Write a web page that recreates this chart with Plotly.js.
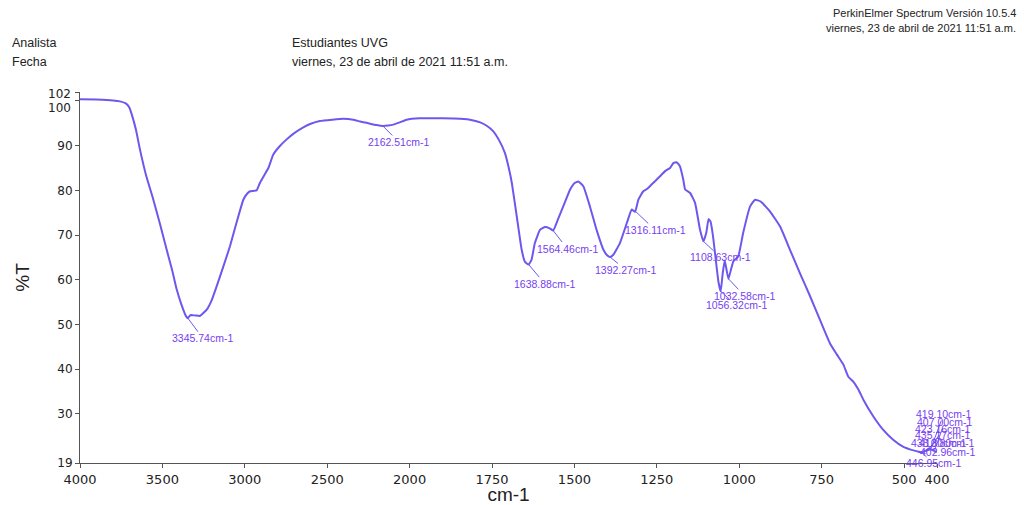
<!DOCTYPE html>
<html>
<head>
<meta charset="utf-8">
<script src="https://cdn.plot.ly/plotly-3.0.1.min.js"></script>
<style>
html,body{margin:0;padding:0;background:#fff;}
#chart{width:1024px;height:505px;}
</style>
</head>
<body>
<div id="chart"></div>
<script>
// ---- data (wavenumber cm-1, %T) ----
const wavenumber = [4000,3900,3800,3757,3720,3700,3686,3660,3636,3600,3555,3515,3474,3440,3413,3385,3356,3345.74,3330,3300,3272,3250,3231,3200,3171,3130,3090,3050,3009,2985,2968,2928,2908,2880,2857,2827,2790,2746,2700,2645,2600,2544,2470,2402,2342,2300,2261,2200,2162.51,2130,2099,2060,2018,1969,1900,1847,1810,1786,1765,1746,1730,1711,1700,1690,1675,1660,1650,1638.88,1630,1620,1604,1589,1575,1564.46,1550,1534,1513,1500,1488,1473,1453,1433,1412,1400,1392.27,1382,1362,1341,1326,1316.11,1306,1291,1280,1266,1245,1225,1210,1200,1190,1180,1170,1164,1149,1134,1119,1108.63,1100,1093,1087,1080,1072,1063,1056.32,1050,1044,1038,1032.58,1025,1018,1003,988,967,952,935,907,876,846,816,785,755,725,704,684,669,654,639,623,593,563,533,502,480,460,446.95,435.17,423.16,419.1,410.8,402.96,400];
const transmittance = [100.4,100.3,100.1,99.9,99.4,98.5,97.0,93.5,89.1,83.5,77.9,72.5,66.7,62.0,57.8,54.5,51.8,51.4,52.1,52.0,51.9,52.6,53.3,55.5,58.5,63.0,67.5,72.8,77.9,79.3,79.8,80.0,81.7,83.5,85.0,88.0,89.8,91.4,92.8,94.1,94.9,95.5,95.8,96.0,95.8,95.4,95.1,94.6,94.4,94.5,94.7,95.2,95.8,96.1,96.1,96.0,95.7,95.2,94.4,93.2,91.4,88.4,85.3,81.7,74.2,66.7,64.0,63.4,64.5,68.2,71.2,71.8,71.5,71.0,73.5,76.4,80.2,81.6,82.0,80.9,76.4,71.2,66.7,65.4,65.1,65.6,68.2,72.7,75.7,75.2,77.9,79.8,80.3,81.3,82.8,84.3,85.0,86.1,86.3,85.4,82.5,80.2,79.4,77.2,71.2,68.6,70.5,73.6,73.0,70.0,65.0,59.5,57.4,61.5,64.3,62.0,60.2,62.3,64.1,65.2,70.5,76.4,77.9,77.5,75.3,71.9,66.7,61.5,56.3,51.0,45.8,43.3,41.0,38.3,37.2,35.5,33.1,29.4,26.4,24.2,22.6,22.0,21.6,21.4,21.7,22.0,22.1,21.8,21.5,21.6];

// peak labels
const peakWn = [3345.74,2162.51,1638.88,1564.46,1392.27,1316.11,1108.63,1032.58,1056.32,419.10,407.00,423.16,435.17,438.30,410.80,402.96,446.95];
const peakT  = [51.4,94.4,63.4,71.0,65.1,75.4,68.6,60.2,57.4,22.1,21.9,22.0,21.7,21.7,21.8,21.5,21.4];
const peakText = peakWn.map(v => v.toFixed(2) + 'cm-1');

// axis ticks
const xTickVals = [4000,3500,3000,2500,2000,1750,1500,1250,1000,750,500,400];
const xTickText = ['4000','3500','3000','2500','2000','1750','1500','1250','1000','750','500','400'];
const yTickVals = [19,30,40,50,60,70,80,90,100,102];
const yTickText = ['19','30','40','50','60','70','80','90','',''];

// PerkinElmer style scale: 4000-2000 compressed 2x relative to below 2000
function xs(w){ return w >= 2000 ? (4000 - w) / 2 : 1000 + (2000 - w); }

const LINE = 'rgb(108,88,238)';
const TXT = 'rgb(118,62,240)';
const M = {l:80, r:87, t:92, b:42};
const PW = 1024 - M.l - M.r, PH = 505 - M.t - M.b;
const px = x => (x - M.l) / PW;
const py = y => (505 - M.b - y) / PH;

// label offsets (pixels from peak to label centre)
const offs = [[15,20],[16,16],[16,19],[14,18],[16,13],[20,19],[17,16],[16,17],[16,14],
              [13,-35],[10,-28],[14,-21],[18,-16],[15,-8],[14,-7],[12,0],[12,11]];

const annotations = peakWn.map((w,i) => ({
  x: xs(w), y: peakT[i], xref:'x', yref:'y',
  text: peakText[i], showarrow: true, arrowhead: 0, arrowwidth: 1, arrowcolor: LINE,
  ax: offs[i][0], ay: offs[i][1], standoff: 0, startstandoff: 0,
  font: {family:'Liberation Sans, Arial, sans-serif', size: 10.5, color: TXT},
  borderpad: 0
}));

// y labels 102 / 100 separated as in original
annotations.push({xref:'paper', yref:'y', x:0, y:102, xanchor:'right', yanchor:'middle', xshift:-7, yshift:-2, text:'102', showarrow:false, font:{family:'DejaVu Sans, sans-serif', size:12, color:'#222'}});
annotations.push({xref:'paper', yref:'y', x:0, y:100, xanchor:'right', yanchor:'middle', xshift:-7, yshift:-7, text:'100', showarrow:false, font:{family:'DejaVu Sans, sans-serif', size:12, color:'#222'}});

// header texts
const hdrFont = {family:'Liberation Sans Narrow, Liberation Sans, Arial, sans-serif', size:12.5, color:'#222'};
const hdrFontSmall = {family:'Liberation Sans Narrow, Liberation Sans, Arial, sans-serif', size:11, color:'#222'};
const headers = [
  ['Analista', 10, 43, 'left', hdrFont],
  ['Fecha', 10, 62, 'left', hdrFont],
  ['Estudiantes UVG', 290, 43, 'left', hdrFont],
  ['viernes, 23 de abril de 2021 11:51 a.m.', 290, 62, 'left', hdrFont],
  ['PerkinElmer Spectrum Versión 10.5.4', 1018, 13, 'right', hdrFontSmall],
  ['viernes, 23 de abril de 2021 11:51 a.m.', 1018, 28, 'right', hdrFontSmall]
];
headers.forEach(h => annotations.push({
  xref:'paper', yref:'paper', x: px(h[1]), y: py(h[2]), xanchor: h[3], yanchor:'middle',
  text: h[0], showarrow:false, font: h[4]
}));

const trace = {
  x: wavenumber.map(xs), y: transmittance, type:'scatter', mode:'lines',
  line: {color: LINE, width: 2, shape:'spline', smoothing:0.4}, hoverinfo:'skip'
};

const layout = {
  width: 1024, height: 505, margin: M,
  paper_bgcolor:'#fff', plot_bgcolor:'#fff', showlegend:false,
  xaxis: {
    range:[0, xs(400)], tickmode:'array', tickvals: xTickVals.map(xs), ticktext: xTickText,
    showgrid:false, zeroline:false, showline:true, linecolor:'#555', linewidth:1,
    ticks:'outside', ticklen:4, tickcolor:'#555',
    tickfont:{family:'DejaVu Sans, sans-serif', size:13, color:'#222'},
    title:{text:'cm-1', standoff:4, font:{family:'Liberation Sans, Arial, sans-serif', size:19, color:'#222'}},
    automargin:false
  },
  yaxis: {
    range:[19,102], tickmode:'array', tickvals: yTickVals, ticktext: yTickText,
    showgrid:false, zeroline:false, showline:true, linecolor:'#555', linewidth:1,
    ticks:'outside', ticklen:4, tickcolor:'#555',
    tickfont:{family:'DejaVu Sans, sans-serif', size:12, color:'#222'},
    title:{text:'%T', standoff:22, font:{family:'Liberation Sans, Arial, sans-serif', size:19, color:'#222'}},
    automargin:false
  },
  annotations: annotations
};

Plotly.newPlot('chart', [trace], layout, {displayModeBar:false, staticPlot:true});
</script>
</body>
</html>
